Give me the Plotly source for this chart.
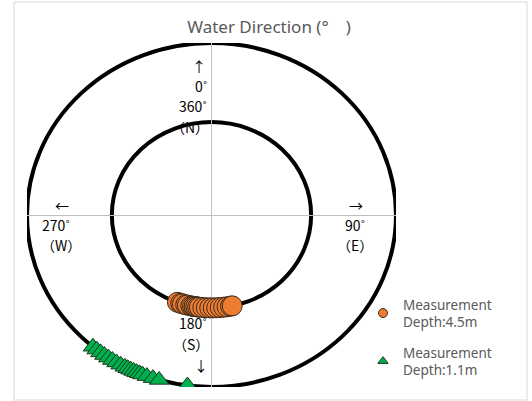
import numpy as np
import plotly.graph_objects as go

# --- data (directions in degrees, clockwise from north) ---
R_OUTER = 2.0
R_INNER = 1.08
depth45_dir = [200, 198, 197, 195, 194, 192, 191, 190, 190, 189, 188, 187, 185, 183, 181, 179, 177, 175, 173, 171, 169, 168]
depth11_dir = [220, 218.5, 217, 215.5, 214, 212.5, 211, 209.5, 208, 207, 206, 205, 204, 203, 202, 200.5, 198.5, 196.5, 187.5]
series_names = ["Measurement<br>Depth:4.5m", "Measurement<br>Depth:1.1m"]

def to_xy(deg, r):
    a = np.radians(np.array(deg, dtype=float))
    return r * np.sin(a), r * np.cos(a)

x45, y45 = to_xy(depth45_dir, R_INNER)
x11, y11 = to_xy(depth11_dir, R_OUTER)

ORANGE = "#ED7D31"
GREEN = "#00B050"

fig = go.Figure()
fig.add_trace(go.Scatter(x=x45, y=y45, mode="markers", showlegend=False,
                         marker=dict(size=20, color=ORANGE, line=dict(color="#3a2a1a", width=1))))
fig.add_trace(go.Scatter(x=x11, y=y11, mode="markers", showlegend=False,
                         marker=dict(size=17, symbol="triangle-up", color=GREEN, line=dict(color="#1a3a1a", width=1))))
# legend-only entries with small markers
fig.add_trace(go.Scatter(x=[None], y=[None], mode="markers", name=series_names[0], legendgroup="a",
                         marker=dict(size=9, color=ORANGE, line=dict(color="#3a2a1a", width=1))))
fig.add_trace(go.Scatter(x=[None], y=[None], mode="markers", name=series_names[1], legendgroup="b",
                         marker=dict(size=9, symbol="triangle-up", color=GREEN, line=dict(color="#1a3a1a", width=1))))

L, T, W, H = 27, 43, 369, 344
def px(x): return (x - L) / W
def py(y): return (T + H - y) / H

shapes = [
    dict(type="circle", xref="x", yref="y", x0=-R_OUTER, x1=R_OUTER, y0=-R_OUTER, y1=R_OUTER,
         line=dict(color="black", width=4), layer="below"),
    dict(type="circle", xref="x", yref="y", x0=-R_INNER, x1=R_INNER, y0=-R_INNER, y1=R_INNER,
         line=dict(color="black", width=4), layer="below"),
    dict(type="rect", xref="paper", yref="paper", x0=px(14), x1=px(527), y0=py(400), y1=py(2),
         line=dict(color="#D9D9D9", width=1), layer="below"),
]

labels = [
    ("↑", 199, 66, "center"), ("0˚", 209, 86, "right"), ("360˚", 209, 106, "right"), ("（N）", 211, 127, "right"),
    ("←", 62, 205, "center"), ("270˚", 56, 225, "center"), ("（W）", 61, 245, "center"),
    ("→", 356, 205, "center"), ("90˚", 355, 225, "center"), ("（E）", 355, 245, "center"),
    ("180˚", 209, 323, "right"), ("（S）", 211, 344, "right"), ("↓", 201, 365, "center"),
]
annotations = []
for txt, x, y, al in labels:
    xa = "right" if al == "right" else "center"
    annotations.append(dict(text=txt, x=px(x), y=py(y), xref="paper", yref="paper",
                            xanchor=xa, yanchor="middle", showarrow=False,
                            font=dict(size=14, color="#000000", family="Noto Sans CJK JP")))

fig.update_layout(
    width=532, height=401,
    margin=dict(l=L, r=532 - L - W, t=T, b=401 - T - H),
    paper_bgcolor="white", plot_bgcolor="white",
    title=dict(text="Water Direction (°　)", x=269 / 532, xanchor="center", y=1 - 27 / 401, yanchor="middle",
               font=dict(size=17, color="#595959", family="Noto Sans")),
    xaxis=dict(range=[-R_OUTER, R_OUTER], showgrid=False, showticklabels=False, ticks="",
               zeroline=True, zerolinecolor="#BFBFBF", zerolinewidth=1),
    yaxis=dict(range=[-R_OUTER, R_OUTER], showgrid=False, showticklabels=False, ticks="",
               zeroline=True, zerolinecolor="#BFBFBF", zerolinewidth=1),
    shapes=shapes,
    annotations=annotations,
    legend=dict(x=px(363), y=py(289), xanchor="left", yanchor="top", bgcolor="rgba(0,0,0,0)",
                font=dict(size=13.5, color="#595959", family="Noto Sans"), tracegroupgap=10,
                itemwidth=30),
    showlegend=True,
)

fig.write_html("out.html", config={"displayModeBar": False},
               post_script="document.body.style.margin='0';document.body.style.padding='0';")
